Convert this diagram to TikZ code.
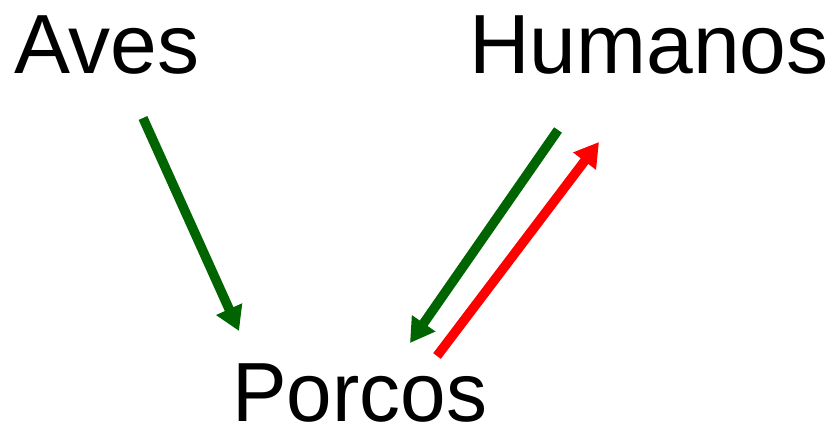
\documentclass[tikz,border=0pt]{standalone}
\usepackage{fontspec}
\setmainfont{Liberation Sans}
\usetikzlibrary{arrows.meta}
\definecolor{darkgr}{RGB}{0,100,0}
\definecolor{brred}{RGB}{255,0,0}
\begin{document}
\begin{tikzpicture}[x=1pt,y=-1pt,
  lbl/.style={anchor=base west,inner sep=0pt,font=\fontsize{84}{88}\selectfont},
  arr/.style={line width=9.5pt,-{Triangle[width=27pt,length=24pt]}}]
\useasboundingbox (0,0) rectangle (831,428);
\node[lbl] (aves) at (14,74) {Aves};
\node[lbl] (hum) at (469,74) {Humanos};
\node[lbl,xscale=0.975] (porc) at (232,421) {Porcos};
\coordinate (a1) at (143,118);
\coordinate (a2) at (239,331);
\coordinate (h1) at (558,130);
\coordinate (h2) at (410,343);
\coordinate (r1) at (437,356);
\coordinate (r2) at (599,142);
\draw[arr,darkgr] (a1) -- (a2);
\draw[arr,darkgr] (h1) -- (h2);
\draw[arr,brred] (r1) -- (r2);
\end{tikzpicture}
\end{document}
